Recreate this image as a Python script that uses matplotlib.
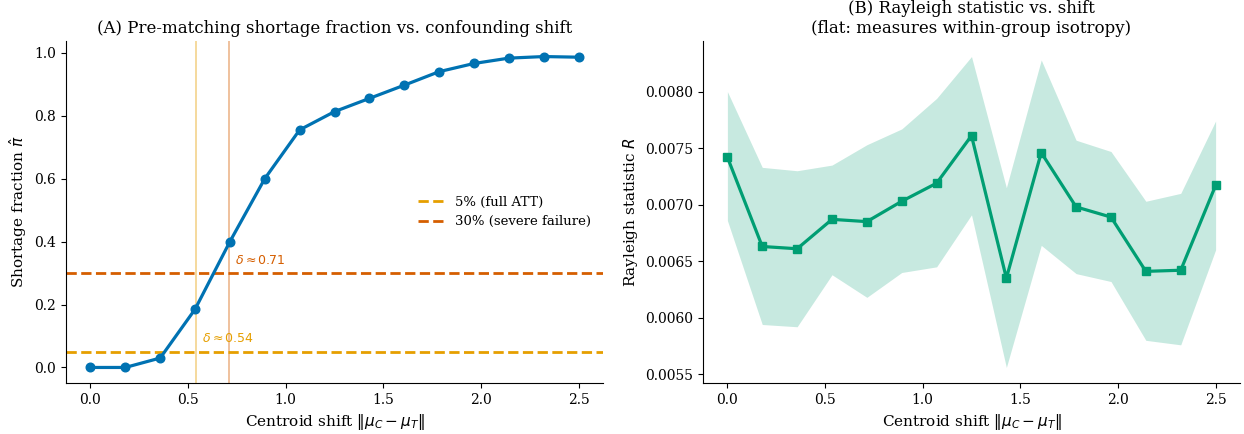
import numpy as np
import matplotlib
matplotlib.use("Agg")
import matplotlib.pyplot as plt

# shift grid (15 settings)
shift = np.linspace(0, 2.5, 15)

# panel A: pre-matching shortage fraction
shortage = [0.0, 0.0, 0.03, 0.185, 0.40, 0.60, 0.755, 0.813, 0.855,
            0.897, 0.94, 0.966, 0.983, 0.988, 0.986]
thresh_full = 0.05
thresh_severe = 0.30
delta_full = 0.54
delta_severe = 0.71

# panel B: Rayleigh statistic with band
rayleigh = [0.00742, 0.00663, 0.00661, 0.00687, 0.00685, 0.00703, 0.00719,
            0.00761, 0.00635, 0.00746, 0.00698, 0.00689, 0.00641, 0.00642, 0.00717]
ray_hi = [0.00800, 0.00733, 0.00730, 0.00735, 0.00753, 0.00767, 0.00794,
          0.00831, 0.00715, 0.00828, 0.00757, 0.00747, 0.00703, 0.00710, 0.00774]
ray_lo = [0.00686, 0.00594, 0.00592, 0.00638, 0.00618, 0.00640, 0.00645,
          0.00691, 0.00556, 0.00664, 0.00639, 0.00632, 0.00580, 0.00576, 0.00660]

BLUE = "#0072B2"
ORANGE = "#E69F00"
VERM = "#D55E00"
GREEN = "#009E73"

plt.rcParams['font.family'] = 'DejaVu Serif'
plt.rcParams['mathtext.fontset'] = 'dejavusans'
plt.rcParams['font.size'] = 10

fig = plt.figure(figsize=(12.44, 4.34), dpi=100)
ax1 = fig.add_axes([0.0531, 0.1175, 0.4316, 0.788])
ax2 = fig.add_axes([0.5651, 0.1175, 0.4317, 0.788])

# --- panel A
ax1.axvline(delta_full, color=ORANGE, alpha=0.45, lw=1.2)
ax1.axvline(delta_severe, color=VERM, alpha=0.45, lw=1.2)
ax1.axhline(thresh_full, color=ORANGE, ls="--", lw=2, label="5% (full ATT)")
ax1.axhline(thresh_severe, color=VERM, ls="--", lw=2, label="30% (severe failure)")
ax1.plot(shift, shortage, "-o", color=BLUE, lw=2.3, ms=6.2)
ax1.text(delta_full + 0.03, thresh_full + 0.03, r"$\delta \approx %.2f$" % delta_full,
         color=ORANGE, fontsize=9, va="baseline")
ax1.text(delta_severe + 0.03, thresh_severe + 0.03, r"$\delta \approx %.2f$" % delta_severe,
         color=VERM, fontsize=9, va="baseline")
ax1.set_title("(A) Pre-matching shortage fraction vs. confounding shift", fontsize=12)
ax1.set_xlabel(r"Centroid shift $\|\mu_C - \mu_T\|$", fontsize=11)
ax1.set_ylabel(r"Shortage fraction $\hat{\pi}$", fontsize=11)
ax1.legend(loc="center right", frameon=False, fontsize=9.5)

# --- panel B
ax2.fill_between(shift, ray_lo, ray_hi, color=GREEN, alpha=0.22, lw=0)
ax2.plot(shift, rayleigh, "-s", color=GREEN, lw=2.3, ms=6.2)
ax2.set_title("(B) Rayleigh statistic vs. shift\n(flat: measures within-group isotropy)", fontsize=12)
ax2.set_xlabel(r"Centroid shift $\|\mu_C - \mu_T\|$", fontsize=11)
ax2.set_ylabel(r"Rayleigh statistic $R$", fontsize=11)

for ax in (ax1, ax2):
    ax.spines["top"].set_visible(False)
    ax.spines["right"].set_visible(False)

fig.savefig("out.png", dpi=100)
